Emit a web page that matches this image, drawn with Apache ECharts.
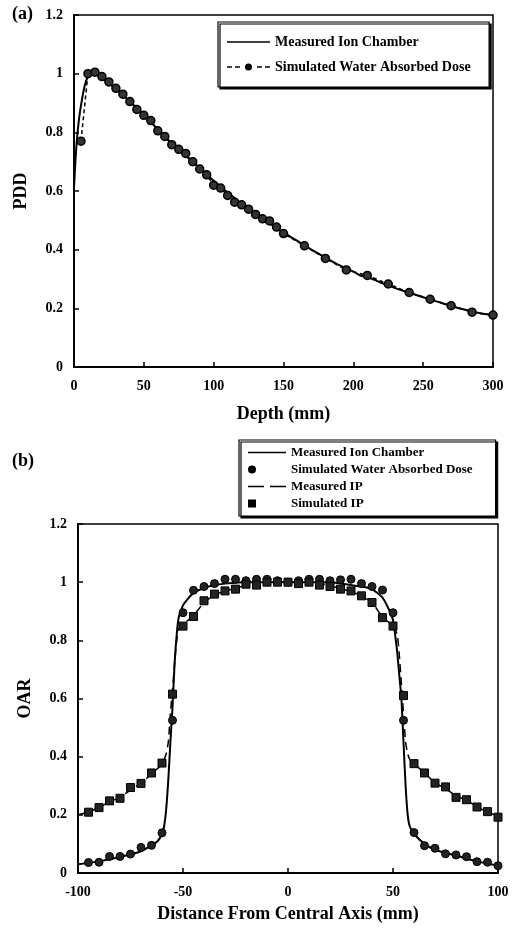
<!DOCTYPE html>
<html>
<head>
<meta charset="utf-8">
<script src="https://cdn.jsdelivr.net/npm/echarts@6/dist/echarts.min.js"></script>
<style>
html,body{margin:0;padding:0;background:#fff;}
#c{width:512px;height:928px;}
</style>
</head>
<body>
<div id="c"></div>
<script>
// ---------- Panel (a): PDD ----------
const pddMeasuredDepth = [0,1,2,3,4,6,8,10,12,15,20,30,40,50,60,70,80,90,100,110,120,130,140,150,160,170,180,190,200,205,210,220,230,240,250,260,270,280,290,300];
const pddMeasuredVal   = [0.61,0.70,0.77,0.82,0.86,0.92,0.965,0.99,1.0,0.998,0.985,0.948,0.905,0.86,0.81,0.762,0.72,0.678,0.635,0.595,0.556,0.52,0.49,0.458,0.43,0.4,0.373,0.347,0.325,0.312,0.307,0.287,0.269,0.253,0.238,0.223,0.208,0.195,0.184,0.177];
const pddSimDepth = [5,10,15,20,25,30,35,40,45,50,55,60,65,70,75,80,85,90,95,100,105,110,115,120,125,130,135,140,145,150,165,180,195,210,225,240,255,270,285,300];
const pddSimVal   = [0.77,1.0,1.005,0.99,0.972,0.95,0.93,0.905,0.878,0.858,0.84,0.805,0.786,0.758,0.742,0.728,0.70,0.675,0.655,0.62,0.61,0.585,0.562,0.553,0.538,0.52,0.505,0.498,0.477,0.455,0.413,0.37,0.331,0.312,0.283,0.254,0.231,0.209,0.187,0.177];

// ---------- Panel (b): OAR ----------
const oarIonX = [-100,-90,-80,-70,-65,-62,-60,-59,-58,-57,-56,-55,-54,-53,-52,-50,-48,-45,-40,-35,-30,-20,0,20,30,35,40,45,48,50,51,52,53,54,55,56,57,58,60,65,70,80,90,100];
const oarIonY = [0.03,0.04,0.055,0.075,0.095,0.11,0.135,0.16,0.22,0.32,0.45,0.57,0.72,0.82,0.88,0.92,0.94,0.963,0.98,0.99,0.995,1.0,1.0,1.0,0.99,0.985,0.976,0.947,0.907,0.87,0.82,0.76,0.68,0.6,0.45,0.3,0.2,0.16,0.135,0.1,0.08,0.06,0.04,0.025];
const oarWaterX = [-95,-90,-85,-80,-75,-70,-65,-60,-55,-50,-45,-40,-35,-30,-25,-20,-15,-10,-5,0,5,10,15,20,25,30,35,40,45,50,55,60,65,70,75,80,85,90,95,100];
const oarWaterY = [0.036,0.037,0.057,0.057,0.065,0.088,0.095,0.138,0.525,0.895,0.972,0.985,0.995,1.01,1.01,1.005,1.01,1.01,1.005,1.0,1.005,1.01,1.01,1.005,1.008,1.01,0.995,0.985,0.973,0.895,0.525,0.139,0.094,0.085,0.066,0.062,0.056,0.039,0.037,0.025];
const oarIPLineX = [-100,-95,-90,-85,-80,-75,-70,-65,-60,-58,-57,-56,-55,-54,-53,-52,-50,-45,-40,-35,-30,-25,-20,-10,0,10,20,25,30,35,40,45,50,52,53,54,55,56,57,58,60,65,70,75,80,85,90,95,100];
const oarIPLineY = [0.2,0.21,0.225,0.245,0.26,0.285,0.31,0.34,0.375,0.41,0.45,0.55,0.63,0.72,0.8,0.84,0.855,0.885,0.93,0.955,0.97,0.978,0.99,1.0,1.0,1.0,0.988,0.978,0.968,0.952,0.93,0.88,0.85,0.82,0.75,0.65,0.55,0.45,0.41,0.39,0.375,0.345,0.31,0.29,0.265,0.25,0.228,0.21,0.195];
const oarIPSimX = [-95,-90,-85,-80,-75,-70,-65,-60,-55,-50,-45,-40,-35,-30,-25,-20,-15,-10,-5,0,5,10,15,20,25,30,35,40,45,50,55,60,65,70,75,80,85,90,95,100];
const oarIPSimY = [0.209,0.225,0.248,0.257,0.294,0.308,0.344,0.378,0.615,0.849,0.882,0.936,0.959,0.97,0.976,0.993,0.99,1.0,1.0,1.0,0.995,1.0,0.99,0.985,0.976,0.97,0.953,0.93,0.878,0.849,0.61,0.376,0.344,0.309,0.296,0.26,0.252,0.227,0.211,0.192];

const yTicks = [0,0.2,0.4,0.6,0.8,1,1.2];
const pddXTicks = [0,50,100,150,200,250,300];
const oarXTicks = [-100,-50,0,50,100];

const zip = (a,b) => a.map((v,i)=>[v,b[i]]);
const FONT = '"Liberation Serif", "DejaVu Serif", serif';
const labelStyle = {color:'#000', fontFamily:FONT, fontWeight:'bold', fontSize:14};

// legend icon paths (drawn in a box the size of the legend item)
const ICON_SOLID_A = 'path://M0,3.2L43,3.2L43,4.8L0,4.8Z';
const ICON_DASHDOT_A = 'path://M0,3.3L5,3.3L5,4.7L0,4.7Z M8,3.3L13,3.3L13,4.7L8,4.7Z M18,4A3.5,3.5 0 1 1 25,4A3.5,3.5 0 1 1 18,4Z M30,3.3L35,3.3L35,4.7L30,4.7Z M38,3.3L43,3.3L43,4.7L38,4.7Z M0,0 M43,8';
const ICON_SOLID_B = 'path://M0,3.2L38,3.2L38,4.8L0,4.8Z';
const ICON_CIRCLE_B = 'path://M0,0 M0,4A4,4 0 1 1 8,4A4,4 0 1 1 0,4Z M38,0 M38,8';
const ICON_DASH_B = 'path://M0,3.2L16,3.2L16,4.8L0,4.8Z M22,3.2L38,3.2L38,4.8L22,4.8Z M0,0 M38,8';
const ICON_SQUARE_B = 'path://M0,0L8,0L8,8L0,8Z M38,0 M38,8';

function yAxis(gi, name){
  return {
    gridIndex: gi, type:'value', min:yTicks[0], max:yTicks[yTicks.length-1], interval:0.2,
    name:name, nameLocation:'middle', nameGap:44, nameRotate:90,
    nameTextStyle:{color:'#000', fontFamily:FONT, fontWeight:'bold', fontSize:18},
    axisLine:{show:true, onZero:false, lineStyle:{color:'#000', width:2}},
    axisTick:{show:true, inside:true, length:5, lineStyle:{color:'#000', width:1.5}},
    axisLabel:Object.assign({margin:11, formatter:v=>String(+v.toFixed(1))}, labelStyle),
    splitLine:{show:false}
  };
}
function xAxis(gi, min, max, step, name, gap){
  return {gridIndex:gi, type:'value', min:min, max:max, interval:step,
     name:name, nameLocation:'middle', nameGap:gap,
     nameTextStyle:{color:'#000', fontFamily:FONT, fontWeight:'bold', fontSize:18},
     axisLine:{show:true, onZero:false, lineStyle:{color:'#000', width:2}},
     axisTick:{show:true, inside:true, length:5, lineStyle:{color:'#000', width:1.5}},
     axisLabel:Object.assign({margin:12}, labelStyle), splitLine:{show:false}};
}
const legendBox = {orient:'vertical', backgroundColor:'#fff', borderColor:'#000', borderWidth:1.2,
  shadowColor:'#000', shadowBlur:0, shadowOffsetX:2, shadowOffsetY:2};
const blackItem = {color:'#000', borderWidth:0, opacity:1};

const chart = echarts.init(document.getElementById('c'), null, {renderer:'canvas'});
chart.setOption({
  backgroundColor:'#fff',
  animation:false,
  grid:[
    {left:74, top:15, width:419, height:352, show:true, borderColor:'#000', borderWidth:1.5, backgroundColor:'transparent'},
    {left:78, top:524, width:420, height:349, show:true, borderColor:'#000', borderWidth:1.5, backgroundColor:'transparent'}
  ],
  xAxis:[
    xAxis(0, pddXTicks[0], pddXTicks[pddXTicks.length-1], 50, 'Depth (mm)', 38),
    xAxis(1, oarXTicks[0], oarXTicks[oarXTicks.length-1], 50, 'Distance From Central Axis (mm)', 32)
  ],
  yAxis:[yAxis(0,'PDD'), yAxis(1,'OAR')],
  legend:[
    Object.assign({left:218, top:22, itemWidth:43, itemHeight:8, itemGap:11, padding:[13,15,13,9],
     textStyle:{color:'#000', fontFamily:FONT, fontWeight:'bold', fontSize:14},
     data:[{name:'Measured Ion Chamber', icon:ICON_SOLID_A, itemStyle:blackItem},
           {name:'Simulated Water Absorbed Dose ', icon:ICON_DASHDOT_A, itemStyle:blackItem}]}, legendBox),
    Object.assign({left:239, top:440, itemWidth:38, itemHeight:8, itemGap:4, padding:[6,23,6,9],
     textStyle:{color:'#000', fontFamily:FONT, fontWeight:'bold', fontSize:13},
     data:[{name:'Measured Ion Chamber ', icon:ICON_SOLID_B, itemStyle:blackItem},
           {name:'Simulated Water Absorbed Dose', icon:ICON_CIRCLE_B, itemStyle:blackItem},
           {name:'Measured IP', icon:ICON_DASH_B, itemStyle:blackItem},
           {name:'Simulated IP', icon:ICON_SQUARE_B, itemStyle:blackItem}]}, legendBox)
  ],
  graphic:[
    {type:'text', left:12, top:5, style:{text:'(a)', font:'bold 18px '+FONT, fill:'#000'}},
    {type:'text', left:12, top:452, style:{text:'(b)', font:'bold 18px '+FONT, fill:'#000'}}
  ],
  series:[
    {name:'Measured Ion Chamber', type:'line', xAxisIndex:0, yAxisIndex:0, color:'#000',
     data:zip(pddMeasuredDepth, pddMeasuredVal), symbol:'none', smooth:0.3,
     lineStyle:{color:'#000', width:2}, itemStyle:{color:'#000'}, z:3},
    {name:'Simulated Water Absorbed Dose ', type:'line', xAxisIndex:0, yAxisIndex:0, color:'#000',
     data:zip(pddSimDepth, pddSimVal), symbol:'circle', symbolSize:8, showSymbol:true,
     lineStyle:{color:'#000', width:1.5, type:[4,3]},
     itemStyle:{color:'#333', borderColor:'#000', borderWidth:1.5}, z:4},
    {name:'Measured Ion Chamber ', type:'line', xAxisIndex:1, yAxisIndex:1, color:'#000',
     data:zip(oarIonX, oarIonY), symbol:'none', smooth:0.2,
     lineStyle:{color:'#000', width:2}, itemStyle:{color:'#000'}, z:3},
    {name:'Simulated Water Absorbed Dose', type:'scatter', xAxisIndex:1, yAxisIndex:1, color:'#000',
     data:zip(oarWaterX, oarWaterY), symbol:'circle', symbolSize:8,
     itemStyle:{color:'#222', borderColor:'#000', borderWidth:1, opacity:1}, z:4},
    {name:'Measured IP', type:'line', xAxisIndex:1, yAxisIndex:1, color:'#000',
     data:zip(oarIPLineX, oarIPLineY), symbol:'none', smooth:0.2,
     lineStyle:{color:'#000', width:1.5, type:[8,5]}, itemStyle:{color:'#000'}, z:3},
    {name:'Simulated IP', type:'scatter', xAxisIndex:1, yAxisIndex:1, color:'#000',
     data:zip(oarIPSimX, oarIPSimY), symbol:'rect', symbolSize:8,
     itemStyle:{color:'#222', borderColor:'#000', borderWidth:1, opacity:1}, z:4}
  ]
});
</script>
</body>
</html>
